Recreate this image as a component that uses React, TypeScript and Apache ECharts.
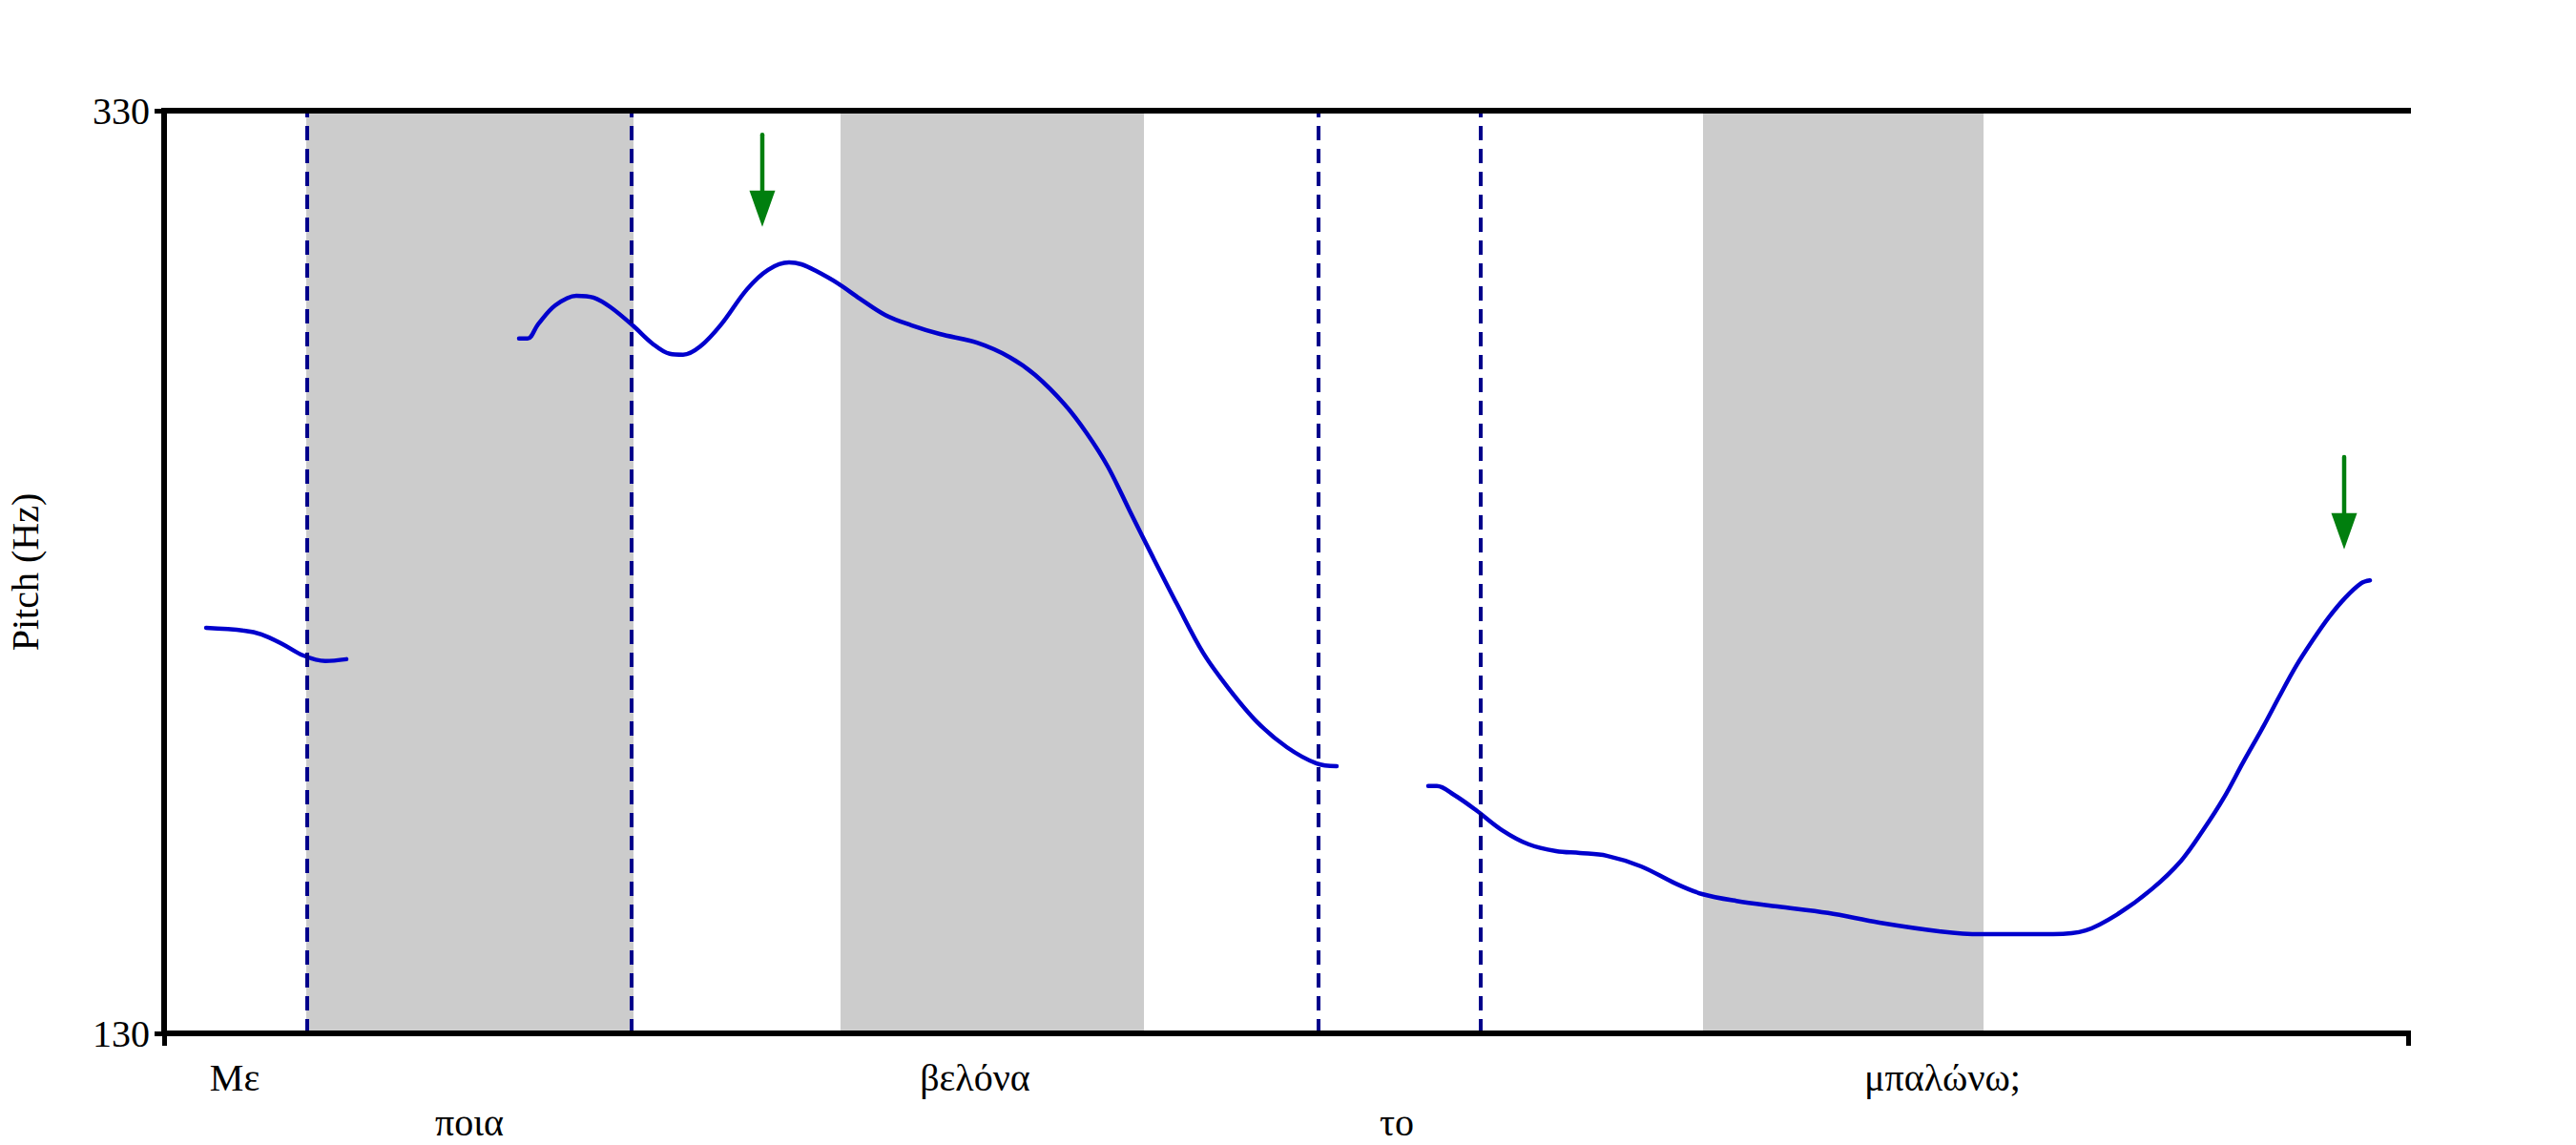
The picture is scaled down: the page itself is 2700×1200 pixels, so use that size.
import React, { useEffect, useRef } from "react";
import * as echarts from "echarts";

// Time axis (s) and pitch axis (Hz)
const xMin = 0;
const xMax = 2.352;
const yMin = 130;
const yMax = 330;
const yTickValues = [130, 330];

// Pitch contour, three voiced stretches
const seg1Time = [0.044, 0.084, 0.102, 0.124, 0.146, 0.169, 0.191];
const seg1Pitch = [217.9, 217.3, 216.5, 214.4, 211.9, 210.7, 211.1];

const seg2Time = [
  0.372, 0.381, 0.392, 0.41, 0.432, 0.45, 0.468, 0.492, 0.512, 0.53, 0.544, 0.562, 0.584, 0.611,
  0.633, 0.655, 0.668, 0.683, 0.706, 0.729, 0.756, 0.783, 0.813, 0.852, 0.886, 0.913, 0.944,
  0.967, 0.989, 1.012, 1.035, 1.062, 1.089, 1.116, 1.146, 1.177, 1.208, 1.229,
];
const seg2Pitch = [
  280.6, 280.6, 283.7, 287.8, 289.9, 289.5, 287.4, 283.3, 279.5, 277.3, 277.1, 278.9, 283.7, 291.3,
  295.5, 297.1, 296.7, 295.3, 292.6, 289.3, 285.7, 283.5, 281.6, 279.7, 276.6, 272.7, 266.3,
  260.1, 252.9, 243.3, 233.8, 222.9, 212.5, 204.7, 197.4, 192.0, 188.5, 187.9,
];

const seg3Time = [
  1.325, 1.334, 1.352, 1.375, 1.402, 1.43, 1.459, 1.484, 1.512, 1.548, 1.584, 1.612, 1.648, 1.691,
  1.744, 1.798, 1.862, 1.904, 1.98, 2.014, 2.048, 2.083, 2.114, 2.138, 2.159, 2.179, 2.2, 2.217,
  2.234, 2.252, 2.269, 2.286, 2.303, 2.312,
];
const seg3Pitch = [
  183.6, 183.6, 181.7, 178.4, 174.1, 171.0, 169.5, 169.1, 168.5, 166.2, 162.5, 160.2, 158.7, 157.5,
  156.1, 154.0, 152.1, 151.5, 151.5, 152.3, 155.9, 161.2, 167.4, 174.3, 181.1, 188.7, 196.4, 203.0,
  209.4, 215.2, 220.2, 224.4, 227.6, 228.2,
];

// Shaded (stressed) syllable intervals
const bandStart = [0.149, 0.709, 1.613];
const bandEnd = [0.492, 1.027, 1.907];

// Word boundaries (dashed lines)
const boundaries = [0.148, 0.492, 1.208, 1.376];

// Words and their row (0 = upper, 1 = lower)
const words = ["Με", "ποια", "βελόνα", "το", "μπαλώνω;"];
const wordRow = [0, 1, 0, 1, 0];

// Green arrows marking pitch peaks: time, shaft top (Hz), tip (Hz)
const arrowTime = [0.627, 2.285];
const arrowTop = [324.8, 254.9];
const arrowTip = [304.8, 234.9];

const FONT = "Liberation Serif";
const LINE_BLUE = "#0000CD";
const DASH_BLUE = "#00008B";
const GREEN = "#007F0E";

function App() {
  const ref = useRef<HTMLDivElement>(null);

  useEffect(() => {
    if (!ref.current) return;
    const chart = echarts.init(ref.current, null, { renderer: "svg" });

    const pair = (t: number[], p: number[]) => t.map((v, i) => [v, p[i]]);
    const wordBounds = [xMin, ...boundaries, xMax];
    const wordData = words.map((w, i) => [
      (wordBounds[i] + wordBounds[i + 1]) / 2,
      wordRow[i],
    ]);
    const arrowData = arrowTime.map((t, i) => [t, arrowTop[i], arrowTip[i]]);

    const lineSeries = (data: number[][]) => ({
      type: "line",
      data,
      smooth: 0.35,
      symbol: "none",
      z: 4,
      lineStyle: { color: LINE_BLUE, width: 4.5, cap: "round" },
    });

    const axisLineStyle = { color: "#000", width: 6, cap: "square" };

    chart.setOption({
      animation: false,
      backgroundColor: "#fff",
      grid: {
        left: 172,
        right: 176,
        top: 116,
        bottom: 117,
        containLabel: false,
        outerBoundsMode: "none",
      },
      xAxis: [
        {
          type: "value",
          min: xMin,
          max: xMax,
          position: "bottom",
          z: 10,
          axisLine: { show: true, lineStyle: axisLineStyle },
          axisTick: {
            show: true,
            length: 13,
            customValues: [xMin, xMax],
            lineStyle: { color: "#000", width: 5 },
          },
          axisLabel: { show: false },
          splitLine: { show: false },
        },
        {
          type: "value",
          min: xMin,
          max: xMax,
          position: "top",
          z: 10,
          axisLine: { show: true, lineStyle: axisLineStyle },
          axisTick: { show: false },
          axisLabel: { show: false },
          splitLine: { show: false },
        },
      ],
      yAxis: [
        {
          type: "value",
          min: yMin,
          max: yMax,
          position: "left",
          z: 10,
          name: "Pitch (Hz)",
          nameLocation: "middle",
          nameGap: 126,
          nameTextStyle: { fontFamily: FONT, fontSize: 40, color: "#000" },
          axisLine: { show: true, lineStyle: axisLineStyle },
          axisTick: {
            show: true,
            length: 10,
            customValues: yTickValues,
            lineStyle: { color: "#000", width: 5 },
          },
          axisLabel: {
            show: true,
            customValues: yTickValues,
            margin: 15,
            fontFamily: FONT,
            fontSize: 40,
            color: "#000",
          },
          splitLine: { show: false },
        },
        {
          type: "value",
          min: yMin,
          max: yMax,
          position: "right",
          z: 10,
          axisLine: { show: true, lineStyle: axisLineStyle },
          axisTick: { show: false },
          axisLabel: { show: false },
          splitLine: { show: false },
        },
      ],
      series: [
        {
          type: "line",
          data: [],
          z: 1,
          silent: true,
          markArea: {
            silent: true,
            itemStyle: { color: "#CCCCCC" },
            data: bandStart.map((s, i) => [{ xAxis: s }, { xAxis: bandEnd[i] }]),
          },
          markLine: {
            silent: true,
            symbol: "none",
            label: { show: false },
            lineStyle: { color: DASH_BLUE, width: 4, type: [15, 9] },
            data: boundaries.map((b) => ({ xAxis: b })),
          },
        },
        lineSeries(pair(seg1Time, seg1Pitch)),
        lineSeries(pair(seg2Time, seg2Pitch)),
        lineSeries(pair(seg3Time, seg3Pitch)),
        {
          type: "custom",
          data: arrowData,
          z: 6,
          silent: true,
          renderItem: (params: any, api: any) => {
            const top = api.coord([api.value(0), api.value(1)]);
            const tip = api.coord([api.value(0), api.value(2)]);
            const headLen = 38;
            const halfW = 13.5;
            return {
              type: "group",
              children: [
                {
                  type: "line",
                  shape: { x1: top[0], y1: top[1], x2: tip[0], y2: tip[1] - headLen + 2 },
                  style: { stroke: GREEN, lineWidth: 4.5, lineCap: "round" },
                },
                {
                  type: "polygon",
                  shape: {
                    points: [
                      [tip[0] - halfW, tip[1] - headLen],
                      [tip[0] + halfW, tip[1] - headLen],
                      [tip[0], tip[1]],
                    ],
                  },
                  style: { fill: GREEN },
                },
              ],
            };
          },
        },
        {
          type: "custom",
          data: wordData,
          z: 6,
          silent: true,
          clip: false,
          renderItem: (params: any, api: any) => {
            const p = api.coord([api.value(0), yMin]);
            const row = api.value(1);
            return {
              type: "text",
              x: p[0],
              y: p[1] + (row ? 93 : 46),
              style: {
                text: words[params.dataIndex],
                fontFamily: FONT,
                fontSize: 40,
                fill: "#000",
                align: "center",
                verticalAlign: "middle",
              },
            };
          },
        },
      ],
    });

    return () => chart.dispose();
  }, []);

  return (
    <div
      ref={ref}
      style={{ position: "fixed", left: 0, top: 0, width: 2700, height: 1200, background: "#fff" }}
    />
  );
}

export default App;
